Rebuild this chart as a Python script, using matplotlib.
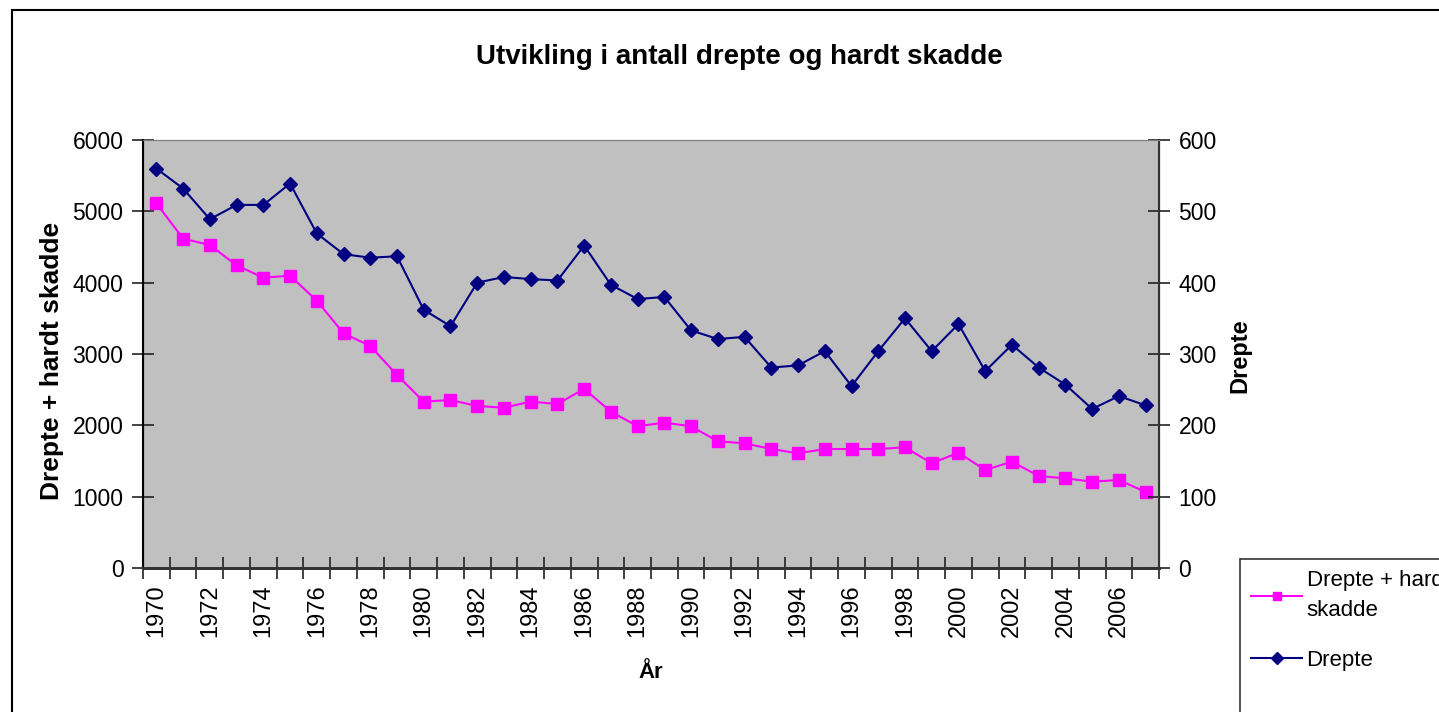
import matplotlib
matplotlib.use("Agg")
import matplotlib.pyplot as plt
from matplotlib.patches import Rectangle
from matplotlib.ticker import FixedLocator, NullFormatter

years = list(range(1970, 2008))
drepte_hardt = [5113, 4617, 4528, 4243, 4070, 4098, 3748, 3290, 3112, 2706,
                2332, 2355, 2271, 2248, 2332, 2299, 2510, 2192, 1987, 2038,
                1987, 1776, 1748, 1668, 1608, 1668, 1668, 1668, 1692, 1468,
                1617, 1374, 1491, 1290, 1257, 1210, 1234, 1065]
drepte = [560, 532, 489, 509, 509, 539, 469, 440, 435, 437,
          362, 339, 400, 408, 405, 403, 452, 397, 377, 380,
          333, 321, 324, 281, 284, 304, 255, 304, 350, 304,
          342, 276, 313, 281, 257, 223, 241, 228]
left_ticks = [0, 1000, 2000, 3000, 4000, 5000, 6000]
right_ticks = [0, 100, 200, 300, 400, 500, 600]
title = "Utvikling i antall drepte og hardt skadde"
xlabel = "År"
ylabel_left = "Drepte + hardt skadde"
ylabel_right = "Drepte"
label_dh = "Drepte + hardt\nskadde"
label_d = "Drepte"

plt.rcParams['font.family'] = ['Liberation Sans', 'DejaVu Sans']

W, H = 1439, 712
fig = plt.figure(figsize=(W / 100, H / 100), dpi=100)
fig.patch.set_facecolor('white')

# outer chart border
fig.patches.append(Rectangle((12 / W, -0.1), 1.2, 1 - 10 / H + 0.1,
                             transform=fig.transFigure, fill=False,
                             edgecolor='black', linewidth=1.5, zorder=0))

x0, x1 = 143, 1159
y0, y1 = 140, 568
ax = fig.add_axes([x0 / W, 1 - y1 / H, (x1 - x0) / W, (y1 - y0) / H])
ax.set_facecolor('#C0C0C0')
ax2 = ax.twinx()

xs = list(range(len(years)))
l1, = ax.plot(xs, drepte_hardt, color='#FF00FF', lw=1.5, marker='s',
              markersize=8, markerfacecolor='#FF00FF', markeredgecolor='#FF00FF',
              label=label_dh, zorder=3)
l2, = ax2.plot(xs, drepte, color='#000080', lw=1.5, marker='D',
               markersize=7.5, markerfacecolor='#000080', markeredgecolor='#000080',
               label=label_d, zorder=3)

ax.set_xlim(-0.5, len(years) - 0.5)
ax.set_ylim(0, 6000)
ax2.set_ylim(0, 600)
ax.set_yticks(left_ticks)
ax2.set_yticks(right_ticks)

ax.set_xticks(xs[::2])
ax.set_xticklabels([str(y) for y in years[::2]], rotation=90)
ax.xaxis.set_minor_locator(FixedLocator([i - 0.5 for i in range(len(years) + 1)]))
ax.xaxis.set_minor_formatter(NullFormatter())
ax.tick_params(axis='x', which='major', length=0, labelsize=17, pad=12)
ax.tick_params(axis='x', which='minor', length=16, direction='inout', width=1.2, color='#222222')
ax.tick_params(axis='y', length=16, direction='inout', width=1.2, labelsize=16.5, pad=6, color='#222222')
ax2.tick_params(axis='y', length=16, direction='inout', width=1.2, labelsize=16.5, pad=6, color='#222222')

ax.spines['top'].set_color('#808080')
ax2.spines['top'].set_color('#808080')
ax.spines['left'].set_color('black')
ax.spines['left'].set_linewidth(1.5)
ax.spines['bottom'].set_color('#333333')
ax.spines['bottom'].set_linewidth(2)
ax2.spines['bottom'].set_color('#333333')
ax2.spines['bottom'].set_linewidth(2)
ax2.spines['right'].set_color('#333333')
ax2.spines['right'].set_linewidth(1.5)

fig.text(739 / W, 1 - 57 / H, title, ha='center', va='center',
         fontsize=20, fontweight='bold')
fig.text(651 / W, 1 - 672 / H, xlabel, ha='center', va='center',
         fontsize=16, fontweight='bold')
fig.text(52 / W, 1 - 361 / H, ylabel_left, ha='center', va='center',
         rotation=90, fontsize=19, fontweight='bold')
fig.text(1240 / W, 1 - 356 / H, ylabel_right, ha='center', va='center',
         rotation=90, fontsize=17, fontweight='bold')

# legend box
fig.patches.append(Rectangle((1240 / W, -0.1), 0.5, 1 - 559 / H + 0.1,
                             transform=fig.transFigure, fill=False,
                             edgecolor='#333333', linewidth=1.2, zorder=1))
leg = fig.legend([l1, l2], [label_dh, label_d], loc='upper left',
                 bbox_to_anchor=(1251 / W, 1 - 570 / H), frameon=False,
                 fontsize=16, handlelength=2.3, handletextpad=0.2,
                 labelspacing=1.3, borderaxespad=0, borderpad=0.0)
for t in leg.get_texts():
    t.set_linespacing(1.55)
for h in leg.legend_handles:
    h.set_markersize(6)

fig.savefig('out.png', dpi=100)
